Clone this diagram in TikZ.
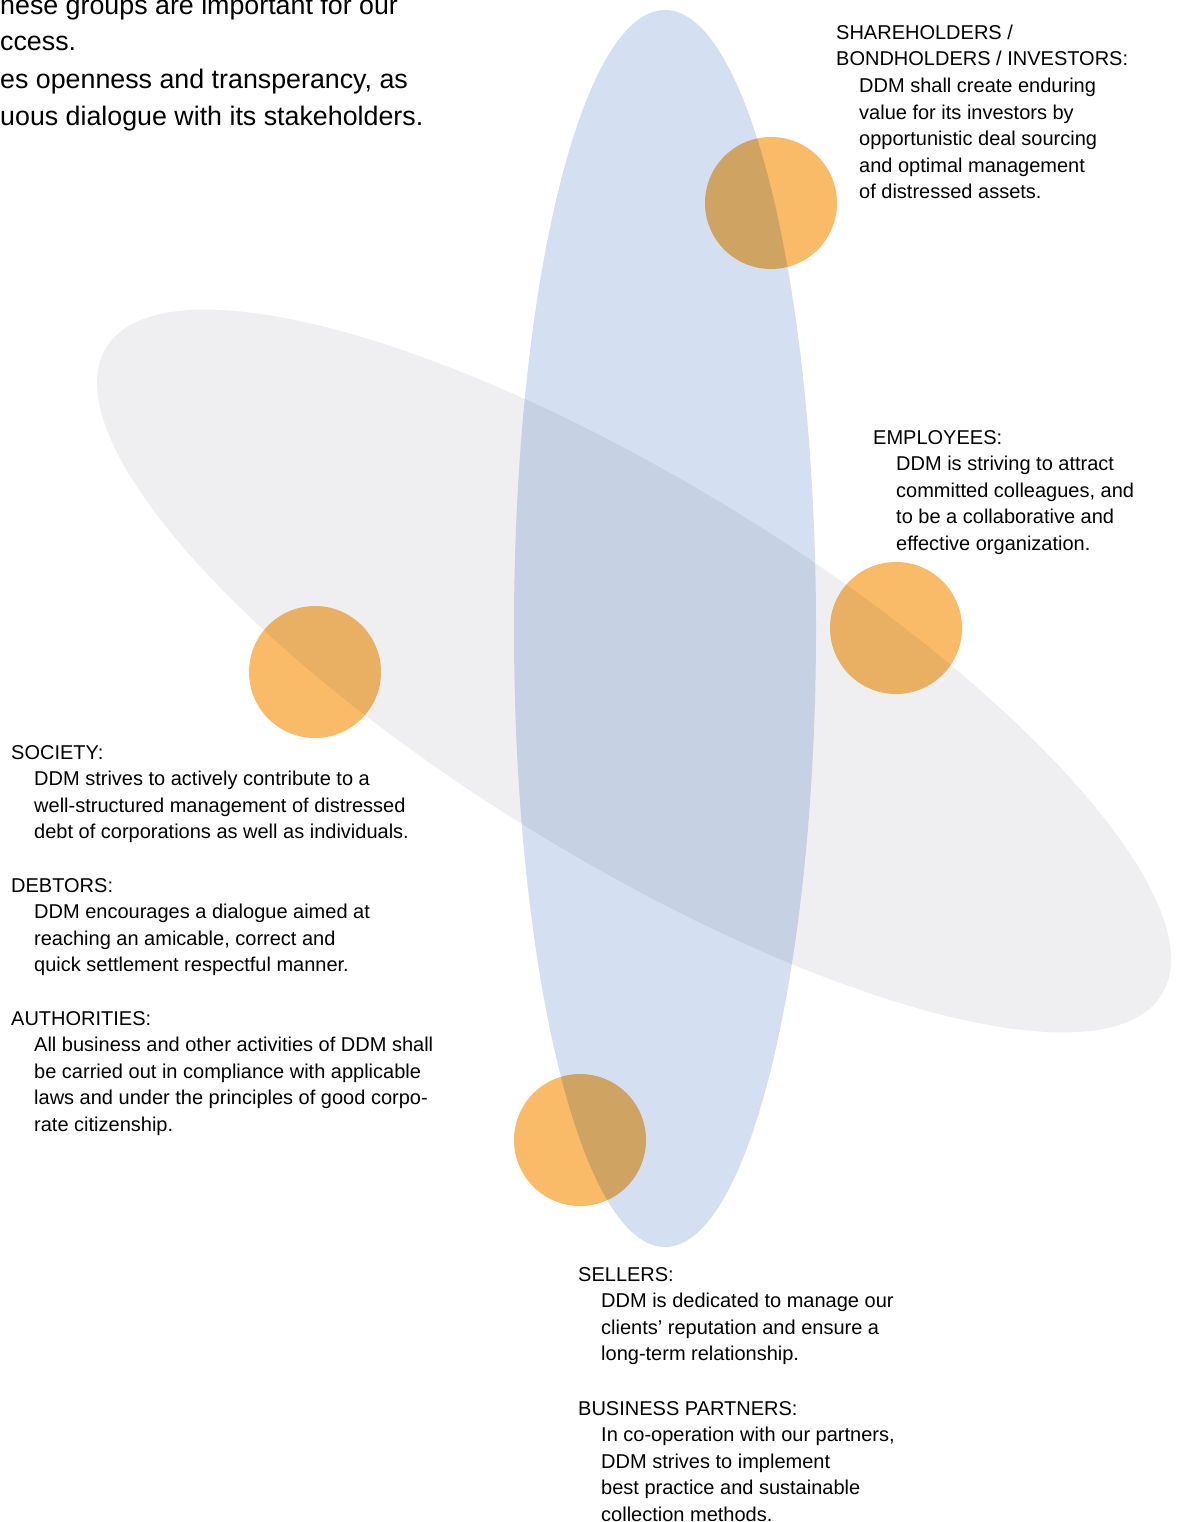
\documentclass[tikz,border=0pt]{standalone}
\usepackage{fontspec}
\setmainfont{Liberation Sans}
\usetikzlibrary{positioning,shapes.geometric}
\definecolor{ddmgray}{HTML}{EFEFF1}
\definecolor{ddmblue}{HTML}{D4DFF2}
\definecolor{ddmorange}{HTML}{F9BB68}

\begin{document}
\begin{tikzpicture}[x=1pt,y=-1pt,
  head/.style={anchor=base west,inner sep=0pt,align=left,font=\fontsize{20}{26.6}\selectfont},
  body/.style={anchor=base west,inner sep=0pt,align=left,font=\fontsize{20}{26.6}\selectfont},
  intro/.style={anchor=base west,inner sep=0pt,font=\fontsize{26.8}{32}\selectfont},
  dot/.style={circle,fill=ddmorange,minimum size=132pt,inner sep=0pt,blend mode=multiply}]
\useasboundingbox (0,0) rectangle (1176,1522);
\clip (0,0) rectangle (1176,1522);

% the two orbits
\fill[ddmgray,blend mode=multiply,shift={(634,671)},rotate=-31.5] (0,0) ellipse [x radius=619, y radius=189];
\fill[ddmblue,blend mode=multiply] (665,628.5) ellipse [x radius=151, y radius=618.5];

% stakeholder dots
\node[dot] (dot-inv) at (771,203) {};
\node[dot] (dot-emp) at (896,628) {};
\node[dot] (dot-soc) at (315,672) {};
\node[dot] (dot-sel) at (580,1140) {};

% intro text, cut at the left edge
\node[intro] (intro1) at (0,15) {hese groups are important for our};
\node[intro] (intro2) at (0,51) {ccess.};
\node[intro] (intro3) at (0,89) {es openness and transperancy, as};
\node[intro] (intro4) at (0,126) {uous dialogue with its stakeholders.};

% investors (base of a text block = its last line)
\node[head] (inv) at (836,66) {SHAREHOLDERS /\\BONDHOLDERS / INVESTORS:};
\node[body] (inv-txt) at ([xshift=23pt,yshift=-133pt]inv.base west)
  {DDM shall create enduring\\value for its investors by\\opportunistic deal sourcing\\and optimal management\\of distressed assets.};

% employees
\node[head] (emp) at (873,444) {EMPLOYEES:};
\node[body] (emp-txt) at ([xshift=23pt,yshift=-106.4pt]emp.base west)
  {DDM is striving to attract\\committed colleagues, and\\to be a collaborative and\\effective organization.};

% society, debtors, authorities
\node[head] (soc) at (11,759) {SOCIETY:};
\node[body] (soc-txt) at ([xshift=23pt,yshift=-79.8pt]soc.base west)
  {DDM strives to actively contribute to a\\well-structured management of distressed\\debt of corporations as well as individuals.};
\node[head] (deb) at (11,892) {DEBTORS:};
\node[body] (deb-txt) at ([xshift=23pt,yshift=-79.8pt]deb.base west)
  {DDM encourages a dialogue aimed at\\reaching an amicable, correct and\\quick settlement respectful manner.};
\node[head] (aut) at (11,1025) {AUTHORITIES:};
\node[body] (aut-txt) at ([xshift=23pt,yshift=-106.4pt]aut.base west)
  {All business and other activities of DDM shall\\be carried out in compliance with applicable\\laws and under the principles of good corpo-\\rate citizenship.};

% sellers, partners
\node[head] (sel) at (578,1281) {SELLERS:};
\node[body] (sel-txt) at ([xshift=23pt,yshift=-79.8pt]sel.base west)
  {DDM is dedicated to manage our\\clients’ reputation and ensure a\\long-term relationship.};
\node[head] (bus) at (578,1415) {BUSINESS PARTNERS:};
\node[body] (bus-txt) at ([xshift=23pt,yshift=-106.4pt]bus.base west)
  {In co-operation with our partners,\\DDM strives to implement\\best practice and sustainable\\collection methods.};
\end{tikzpicture}
\end{document}
